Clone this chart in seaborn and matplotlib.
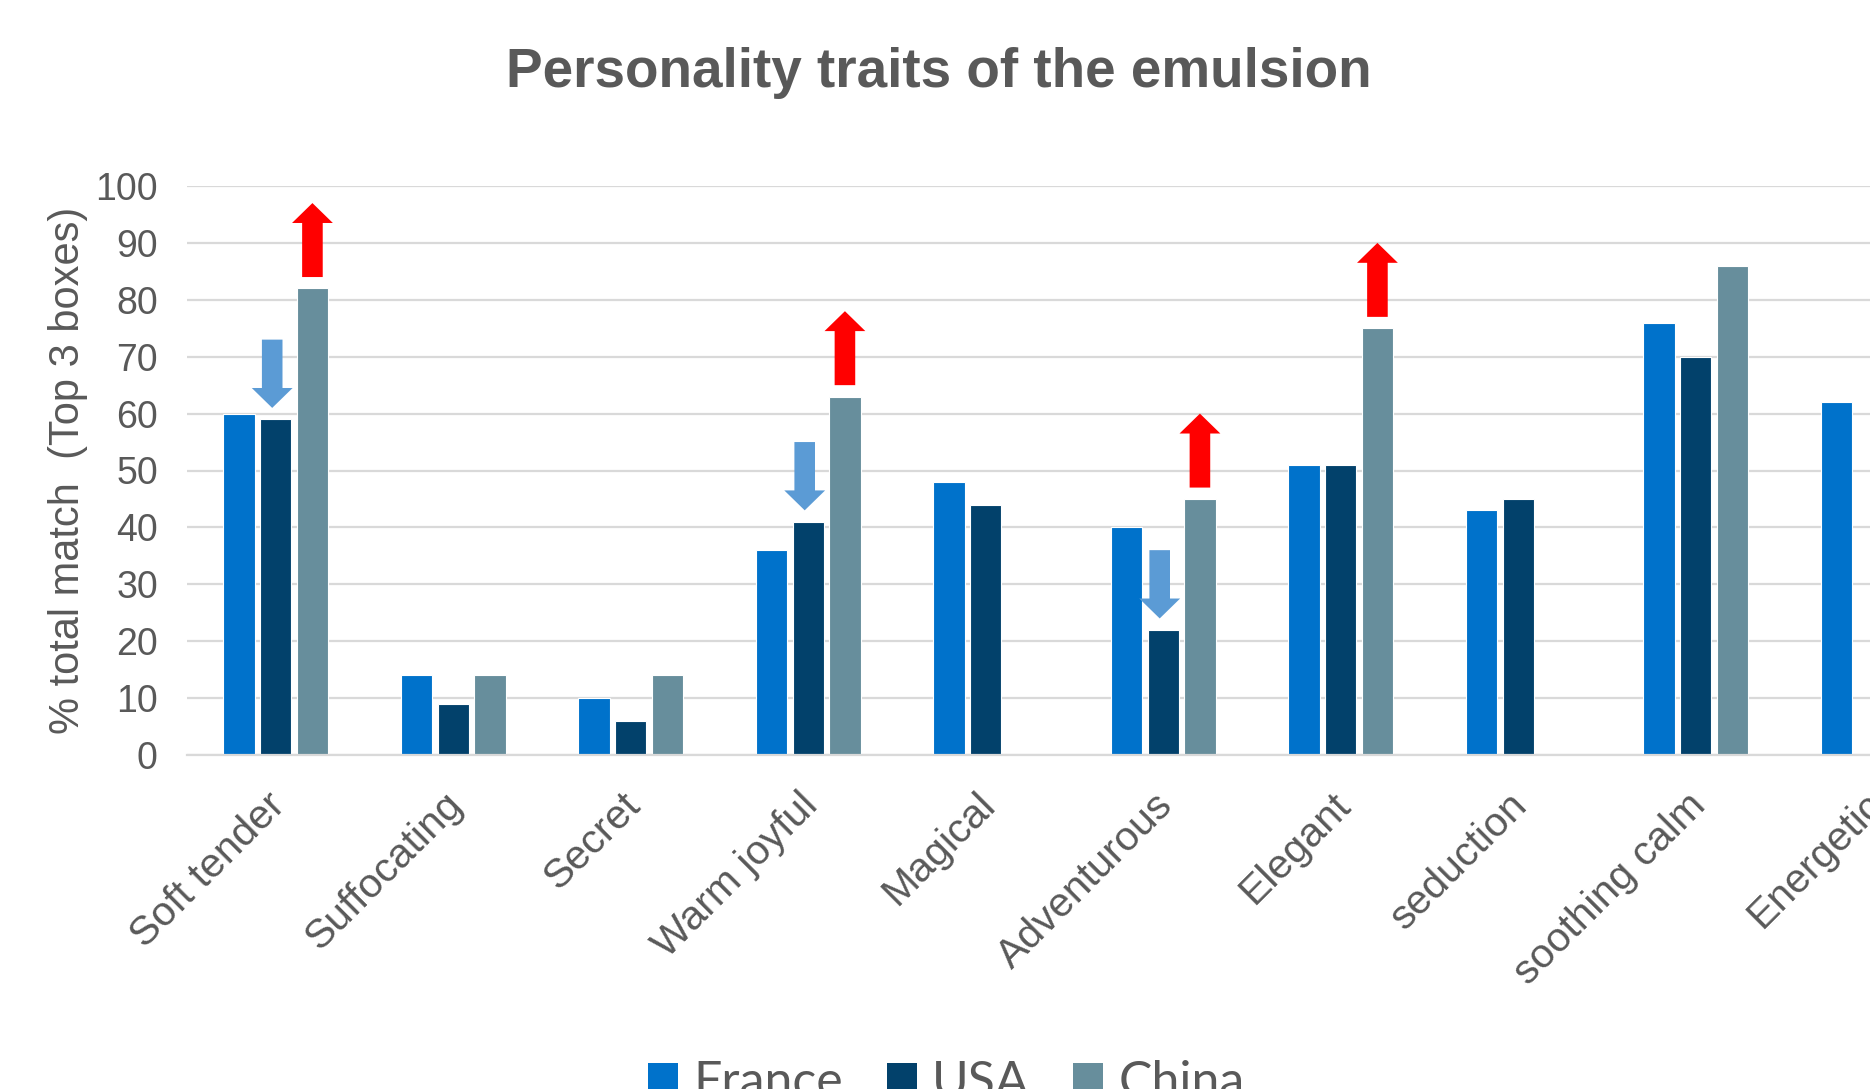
import numpy as np
import pandas as pd
import matplotlib
matplotlib.use("Agg")
import matplotlib.pyplot as plt
from matplotlib.patches import Patch, FancyArrow
from matplotlib.transforms import ScaledTranslation
import seaborn as sns

# ---------------- data ----------------
traits = ["Soft tender", "Suffocating", "Secret", "Warm joyful", "Magical",
          "Adventurous", "Elegant", "seduction", "soothing calm", "Energetic"]
countries = ["France", "USA", "China"]
france = [60, 14, 10, 36, 48, 40, 51, 43, 76, 62]
usa = [59, 9, 6, 41, 44, 22, 51, 45, 70, np.nan]
china = [82, 14, 14, 63, np.nan, 45, 75, np.nan, 86, np.nan]
colors = ["#0072CB", "#02416B", "#678E9C"]
# arrows highlighting differences: USA lower (blue, down), China higher (red, up)
down_arrow_traits = ["Soft tender", "Warm joyful", "Adventurous"]
up_arrow_traits = ["Soft tender", "Warm joyful", "Adventurous", "Elegant"]
yticks = list(range(0, 101, 10))
title = "Personality traits of the emulsion"
ylabel = "% total match  (Top 3 boxes)"

df = pd.DataFrame({
    "trait": traits * 3,
    "country": sum([[c] * len(traits) for c in countries], []),
    "value": france + usa + china,
})

# ---------------- style ----------------
sns.set_theme(style="white")
plt.rcParams["font.family"] = ["Liberation Sans", "DejaVu Sans"]
gray = "#595959"

W, H = 1870, 1089
fig = plt.figure(figsize=(W / 100, H / 100), dpi=100)
ax = fig.add_axes([187 / W, 1 - 755 / H, 1775 / W, (755 - 186) / H])

sns.barplot(data=df, x="trait", y="value", hue="country", order=traits,
            hue_order=countries, palette=colors, saturation=1, width=0.62,
            gap=0.15, edgecolor="white", linewidth=0.8, legend=False, ax=ax)

ax.set_xlim(-0.5, len(traits) - 0.5)
ax.set_ylim(0, 100)
ax.set_yticks(yticks)
ax.set_yticklabels([str(v) for v in yticks])
ax.yaxis.grid(True, color="#D9D9D9", linewidth=1.6)
ax.set_axisbelow(True)
for s in ["top", "right", "left"]:
    ax.spines[s].set_visible(False)
ax.spines["bottom"].set_color("#D9D9D9")
ax.spines["bottom"].set_linewidth(1.6)

ax.tick_params(axis="y", length=0, pad=21, labelsize=27, labelcolor=gray)
ax.tick_params(axis="x", length=0, pad=22, labelsize=29.5, labelcolor=gray)
shift = ScaledTranslation(-0.10, 0, fig.dpi_scale_trans)
for lab in ax.get_xticklabels():
    lab.set_rotation(45)
    lab.set_ha("right")
    lab.set_va("top")
    lab.set_rotation_mode("anchor")
    lab.set_transform(lab.get_transform() + shift)
ax.set_xlabel("")
ax.set_ylabel(ylabel, fontsize=30, color=gray, labelpad=5)

# ---------------- arrows ----------------
def bar_center(container, trait):
    idx = traits.index(trait)
    for p in container.patches:
        cx = p.get_x() + p.get_width() / 2
        if round(cx) == idx and not np.isnan(p.get_height()):
            return cx, p.get_height()
    return None

usa_cont = ax.containers[1]
china_cont = ax.containers[2]
for t in down_arrow_traits:
    cx, h = bar_center(usa_cont, t)
    ax.add_patch(FancyArrow(cx - 0.02, h + 14, 0, -12, width=0.116,
                            head_width=0.23, head_length=3.5,
                            length_includes_head=True, color="#5B9BD5",
                            linewidth=0, zorder=5))
for t in up_arrow_traits:
    cx, h = bar_center(china_cont, t)
    ax.add_patch(FancyArrow(cx, h + 2, 0, 13, width=0.116,
                            head_width=0.23, head_length=3.5,
                            length_includes_head=True, color="#FF0000",
                            linewidth=0, zorder=5))

# ---------------- title & legend ----------------
fig.text(0.502, 1 - 87 / H, title, ha="center", va="baseline", fontsize=39.5,
         fontweight="bold", color=gray)

handles = [Patch(facecolor=c, edgecolor="none", label=l)
           for c, l in zip(colors, countries)]
fig.legend(handles=handles, loc="upper center", bbox_to_anchor=(0.506, 0.045),
           ncol=3, frameon=False, prop={"family": "Lato", "size": 36},
           labelcolor=gray, handlelength=0.6, handleheight=0.6,
           handletextpad=0.3, columnspacing=0.88, borderaxespad=0)

fig.savefig("out.png", dpi=100)
